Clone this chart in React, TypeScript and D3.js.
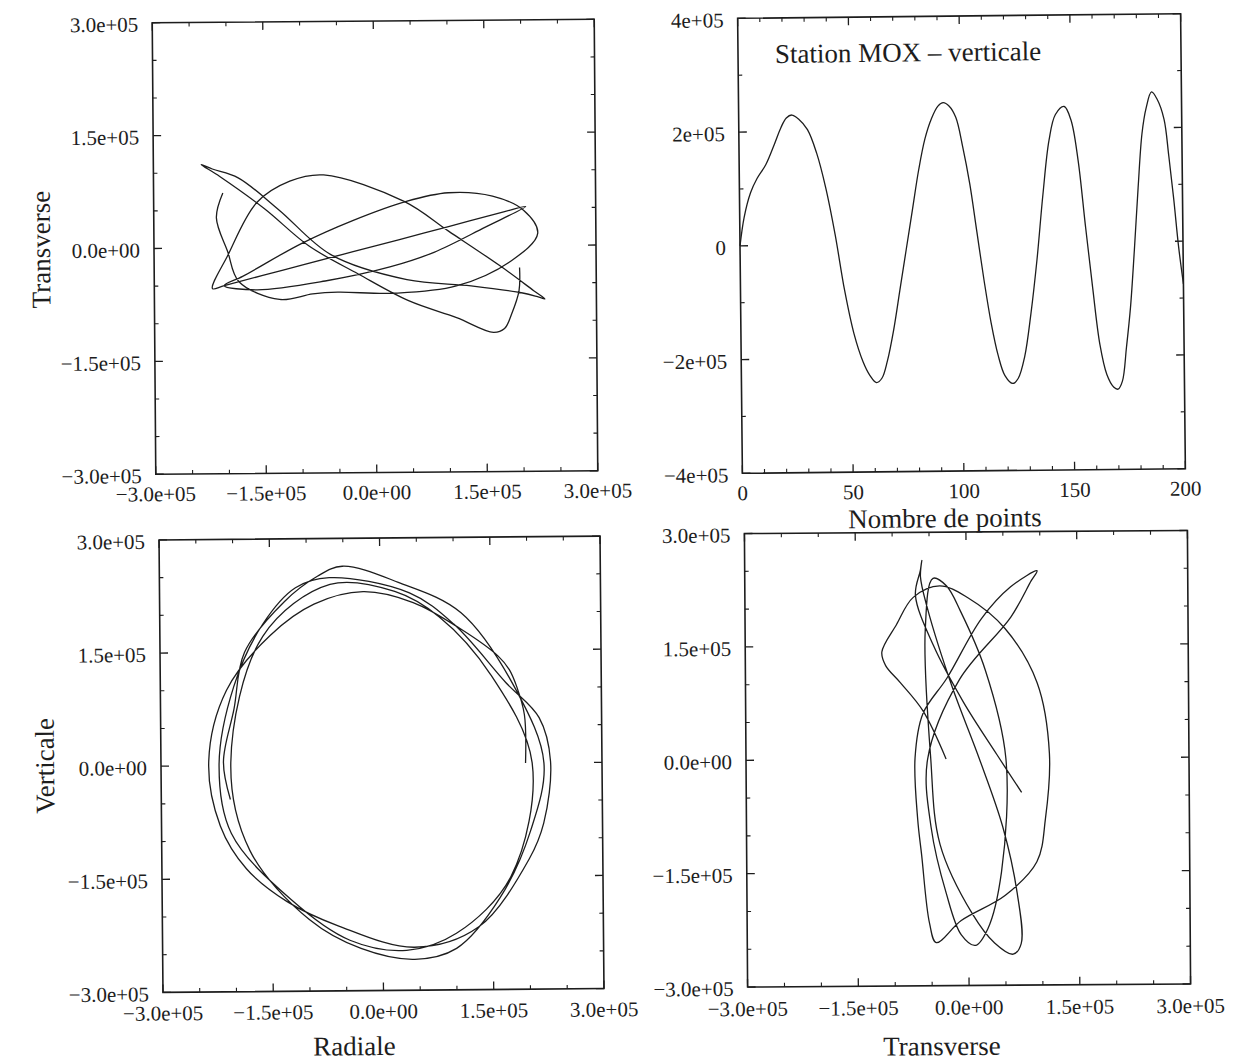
import React from "react";
import * as d3 from "d3";

// ---------- Station MOX, vertical component (time series) ----------
const pointIndex = [0, 2, 5, 8, 12, 16, 19, 21.5, 24, 27, 31, 35, 39, 43, 47, 51, 55, 58, 61, 63.5, 66, 69, 72, 75, 78, 81, 84, 87, 90, 92.4, 95, 98, 101, 104, 107, 110, 113, 116, 119, 122.5, 125, 128, 131, 134, 137, 140, 143, 147, 150, 153, 156, 159, 162, 165, 168, 170, 172, 174, 176, 178, 180, 182, 184, 186.5, 189, 192, 194, 196, 198, 200];
const verticalSeries = [0, 0.5e5, 0.93e5, 1.18e5, 1.42e5, 1.78e5, 2.07e5, 2.24e5, 2.29e5, 2.22e5, 2.03e5, 1.62e5, 1.0e5, 0.18e5, -0.8e5, -1.56e5, -2.06e5, -2.3e5, -2.43e5, -2.35e5, -2.05e5, -1.5e5, -0.8e5, -0.1e5, 0.6e5, 1.3e5, 1.85e5, 2.2e5, 2.42e5, 2.48e5, 2.42e5, 2.22e5, 1.7e5, 1.05e5, 0.2e5, -0.65e5, -1.4e5, -1.97e5, -2.33e5, -2.47e5, -2.38e5, -2.0e5, -1.25e5, -0.3e5, 0.85e5, 1.8e5, 2.25e5, 2.39e5, 2.15e5, 1.45e5, 0.3e5, -0.8e5, -1.8e5, -2.33e5, -2.55e5, -2.59e5, -2.45e5, -1.85e5, -1.15e5, -0.15e5, 0.95e5, 1.9e5, 2.35e5, 2.63e5, 2.5e5, 2.15e5, 1.5e5, 0.75e5, -0.1e5, -0.75e5];

// ---------- Particle motion (hodograms): radial / transverse / vertical, sampled along the record ----------
const hodoIndex = [0, 3, 6, 9, 12, 16, 20, 24, 29, 34, 39, 43.5, 47, 50, 53, 56, 61, 65, 70, 72, 75.5, 78, 80, 84, 88, 92.4, 96, 100, 104, 107.7, 111, 115, 119, 122.6, 126, 130, 134.8, 138, 141, 144, 147, 151.9, 156.7, 160, 163.4, 166.5, 170, 172, 174.2, 176.5, 178.3, 180, 182.4, 184.5, 186.5, 189, 191.8, 194, 196, 198, 200];
const radial = [
  1.96e5, 1.95e5, 1.85e5, 1.75e5, 1.6e5,
  1.1e5, 0.45e5, -0.23e5, -0.9e5, -1.5e5,
  -2.1e5, -2.35e5, -2.2e5, -1.85e5, -1.3e5,
  -0.6e5, 0.43e5, 1.3e5, 2.0e5, 2.2e5,
  2.3e5, 2.15e5, 1.7e5, 1.0e5, 0.4e5,
  -0.69e5, -1.15e5, -1.6e5, -2.0e5, -2.21e5,
  -2.05e5, -1.25e5, -0.45e5, 0.32e5, 1.0e5,
  1.75e5, 2.05e5, 1.5e5, 0.8e5, 0.2e5,
  -0.68e5, -1.6e5, -2.05e5, -1.8e5, -1.0e5,
  -0.3e5, 0.43e5, 1.0e5, 1.6e5, 2.02e5,
  2.21e5, 1.85e5, 1.1e5, 0.25e5, -0.51e5,
  -0.85e5, -1.3e5, -1.85e5, -2.0e5, -2.15e5,
  -2.06e5];
const transverse = [
  -0.29e5, -0.6e5, -0.9e5, -1.1e5, -1.15e5,
  -0.95e5, -0.72e5, -0.36e5, 0.02e5, 0.52e5,
  0.95e5, 1.11e5, 1.05e5, 0.93e5, 0.5e5,
  -0.1e5, -0.44e5, -0.53e5, -0.63e5, -0.68e5,
  -0.71e5, -0.6e5, -0.27e5, 0.2e5, 0.6e5,
  0.96e5, 0.88e5, 0.6e5, -0.1e5, -0.54e5,
  -0.5e5, -0.3e5, -0.1e5, 0.09e5, 0.26e5,
  0.45e5, 0.52e5, 0.25e5, -0.08e5, -0.27e5,
  -0.45e5, -0.56e5, -0.5e5, -0.38e5, 0.05e5,
  0.35e5, 0.6e5, 0.71e5, 0.66e5, 0.47e5,
  0.16e5, -0.2e5, -0.53e5, -0.62e5, -0.6e5,
  -0.62e5, -0.69e5, -0.45e5, -0.05e5, 0.4e5,
  0.73e5];
const vertical = [
  0, 0.64e5, 1.01e5, 1.24e5, 1.42e5,
  1.78e5, 2.14e5, 2.29e5, 2.13e5, 1.72e5,
  1.0e5, 0.06e5, -0.8e5, -1.37e5, -1.81e5,
  -2.14e5, -2.43e5, -2.17e5, -1.27e5, -0.8e5,
  0.02e5, 0.6e5, 1.07e5, 1.85e5, 2.27e5,
  2.48e5, 2.35e5, 1.87e5, 1.05e5, 0,
  -0.9e5, -1.78e5, -2.33e5, -2.47e5, -2.25e5,
  -1.5e5, 0, 1.17e5, 1.95e5, 2.29e5,
  2.39e5, 1.71e5, 0.04e5, -1.13e5, -2.05e5,
  -2.44e5, -2.59e5, -2.45e5, -1.78e5, -0.9e5,
  0, 0.95e5, 2.0e5, 2.41e5, 2.63e5,
  2.5e5, 2.17e5, 1.5e5, 0.75e5, 0.05e5,
  -0.45e5];

// ---------- Axes ----------
const hodoDomain: [number, number] = [-3e5, 3e5];
const hodoMajor = [-3e5, -1.5e5, 0, 1.5e5, 3e5];
const hodoLabels = ["\u22123.0e+05", "\u22121.5e+05", "0.0e+00", "1.5e+05", "3.0e+05"];
const seriesXDomain: [number, number] = [0, 200];
const seriesXMajor = [0, 50, 100, 150, 200];
const seriesXLabels = ["0", "50", "100", "150", "200"];
const seriesYDomain: [number, number] = [-4e5, 4e5];
const seriesYMajor = [-4e5, -2e5, 0, 2e5, 4e5];
const seriesYLabels = ["\u22124e+05", "\u22122e+05", "0", "2e+05", "4e+05"];

const FONT = "'Liberation Serif', 'Times New Roman', Times, serif";
const INK = "#1d1d1d";
const TICK_FS = 21;
const TITLE_FS = 27;

type Pt = [number, number];

type PanelProps = {
  left: number; top: number; right: number; bottom: number; tilt: number;
  xDomain: [number, number]; yDomain: [number, number];
  xMajor: number[]; xLabels: string[]; xMinorStep: number;
  yMajor: number[]; yLabels: string[]; yMinorStep: number;
  lines: Pt[][];
  curve: d3.CurveFactory;
  xLabelGap?: number;
  children?: React.ReactNode;
};

function Panel(p: PanelProps) {
  const x = d3.scaleLinear().domain(p.xDomain).range([p.left, p.right]);
  const y = d3.scaleLinear().domain(p.yDomain).range([p.bottom, p.top]);
  const isMajor = (arr: number[], v: number, step: number) => arr.some(m => Math.abs(m - v) < 1e-6 * Math.abs(step));
  const xMinor = d3.range(p.xDomain[0], p.xDomain[1] + p.xMinorStep / 2, p.xMinorStep).filter(v => !isMajor(p.xMajor, v, p.xMinorStep));
  const yMinor = d3.range(p.yDomain[0], p.yDomain[1] + p.yMinorStep / 2, p.yMinorStep).filter(v => !isMajor(p.yMajor, v, p.yMinorStep));
  const line = d3.line<Pt>().x(d => x(d[0])).y(d => y(d[1])).curve(p.curve);
  const MAJ = 8, MIN = 4;
  const gap = p.xLabelGap ?? 27;
  const cx = (p.left + p.right) / 2, cy = (p.top + p.bottom) / 2;
  return (
    <g transform={`rotate(${p.tilt}, ${cx}, ${cy})`}>
      {p.lines.map((pts, i) => (
        <path key={"l" + i} d={line(pts) || ""} fill="none" stroke={INK} strokeWidth={1.3} strokeLinejoin="round" />
      ))}
      <rect x={p.left} y={p.top} width={p.right - p.left} height={p.bottom - p.top} fill="none" stroke={INK} strokeWidth={1.6} />
      {p.xMajor.map((v, i) => (
        <g key={"xM" + i}>
          <line x1={x(v)} x2={x(v)} y1={p.bottom} y2={p.bottom - MAJ} stroke={INK} strokeWidth={1.3} />
          <line x1={x(v)} x2={x(v)} y1={p.top} y2={p.top + MAJ} stroke={INK} strokeWidth={1.3} />
          <text x={x(v)} y={p.bottom + gap} textAnchor="middle" fontSize={TICK_FS} fontFamily={FONT} fill={INK}>{p.xLabels[i]}</text>
        </g>
      ))}
      {xMinor.map((v, i) => (
        <g key={"xm" + i}>
          <line x1={x(v)} x2={x(v)} y1={p.bottom} y2={p.bottom - MIN} stroke={INK} strokeWidth={1.1} />
          <line x1={x(v)} x2={x(v)} y1={p.top} y2={p.top + MIN} stroke={INK} strokeWidth={1.1} />
        </g>
      ))}
      {p.yMajor.map((v, i) => (
        <g key={"yM" + i}>
          <line x1={p.left} x2={p.left + MAJ} y1={y(v)} y2={y(v)} stroke={INK} strokeWidth={1.3} />
          <line x1={p.right} x2={p.right - MAJ} y1={y(v)} y2={y(v)} stroke={INK} strokeWidth={1.3} />
          <text x={p.left - 14} y={y(v)} dy="0.42em" textAnchor="end" fontSize={TICK_FS} fontFamily={FONT} fill={INK}>{p.yLabels[i]}</text>
        </g>
      ))}
      {yMinor.map((v, i) => (
        <g key={"ym" + i}>
          <line x1={p.left} x2={p.left + MIN} y1={y(v)} y2={y(v)} stroke={INK} strokeWidth={1.1} />
          <line x1={p.right} x2={p.right - MIN} y1={y(v)} y2={y(v)} stroke={INK} strokeWidth={1.1} />
        </g>
      ))}
      {p.children}
    </g>
  );
}

export default function App() {
  const seriesPts: Pt[] = pointIndex.map((t, i) => [t, verticalSeries[i]]);
  const rt: Pt[] = hodoIndex.map((_, i) => [radial[i], transverse[i]]);
  const rv: Pt[] = hodoIndex.map((_, i) => [radial[i], vertical[i]]);
  const tv: Pt[] = hodoIndex.map((_, i) => [transverse[i], vertical[i]]);
  const hodoCurve = d3.curveCatmullRom.alpha(0.5);
  return (
    <svg width={1252} height={1063} style={{ position: "absolute", left: 0, top: 0, background: "#fff" }}>
      <rect x={0} y={0} width={1252} height={1063} fill="#fff" />
      <Panel left={154} right={596} top={21} bottom={472.5} tilt={-0.45}
        xDomain={hodoDomain} yDomain={hodoDomain}
        xMajor={hodoMajor} xLabels={hodoLabels} xMinorStep={0.5e5}
        yMajor={hodoMajor} yLabels={hodoLabels} yMinorStep={0.5e5}
        lines={[rt]} curve={hodoCurve}>
        <text transform="translate(41,247) rotate(-90)" textAnchor="middle" dominantBaseline="central" fontSize={TITLE_FS} fontFamily={FONT} fill={INK}>Transverse</text>
      </Panel>
      <Panel left={740} right={1183} top={16} bottom={471} tilt={-0.6}
        xDomain={seriesXDomain} yDomain={seriesYDomain}
        xMajor={seriesXMajor} xLabels={seriesXLabels} xMinorStep={10}
        yMajor={seriesYMajor} yLabels={seriesYLabels} yMinorStep={1e5}
        lines={[seriesPts]} curve={d3.curveCatmullRom.alpha(0.5)}>
        <text x={777} y={61} fontSize={TITLE_FS} fontFamily={FONT} fill={INK}>Station MOX {"\u2013"} verticale</text>
        <text x={942} y={527} textAnchor="middle" fontSize={TITLE_FS} fontFamily={FONT} fill={INK}>Nombre de points</text>
      </Panel>
      <Panel left={161} right={602} top={538} bottom={990.5} tilt={-0.5}
        xDomain={hodoDomain} yDomain={hodoDomain}
        xMajor={hodoMajor} xLabels={hodoLabels} xMinorStep={0.5e5}
        yMajor={hodoMajor} yLabels={hodoLabels} yMinorStep={0.5e5}
        lines={[rv]} curve={hodoCurve} xLabelGap={28}>
        <text x={352} y={1055} textAnchor="middle" fontSize={TITLE_FS} fontFamily={FONT} fill={INK}>Radiale</text>
        <text transform="translate(45,763) rotate(-90)" textAnchor="middle" dominantBaseline="central" fontSize={TITLE_FS} fontFamily={FONT} fill={INK}>Verticale</text>
      </Panel>
      <Panel left={746} right={1189} top={532} bottom={985.5} tilt={-0.4}
        xDomain={hodoDomain} yDomain={hodoDomain}
        xMajor={hodoMajor} xLabels={hodoLabels} xMinorStep={0.5e5}
        yMajor={hodoMajor} yLabels={hodoLabels} yMinorStep={0.5e5}
        lines={[tv]} curve={hodoCurve} xLabelGap={29}>
        <text x={940} y={1055} textAnchor="middle" fontSize={TITLE_FS} fontFamily={FONT} fill={INK}>Transverse</text>
      </Panel>
    </svg>
  );
}
